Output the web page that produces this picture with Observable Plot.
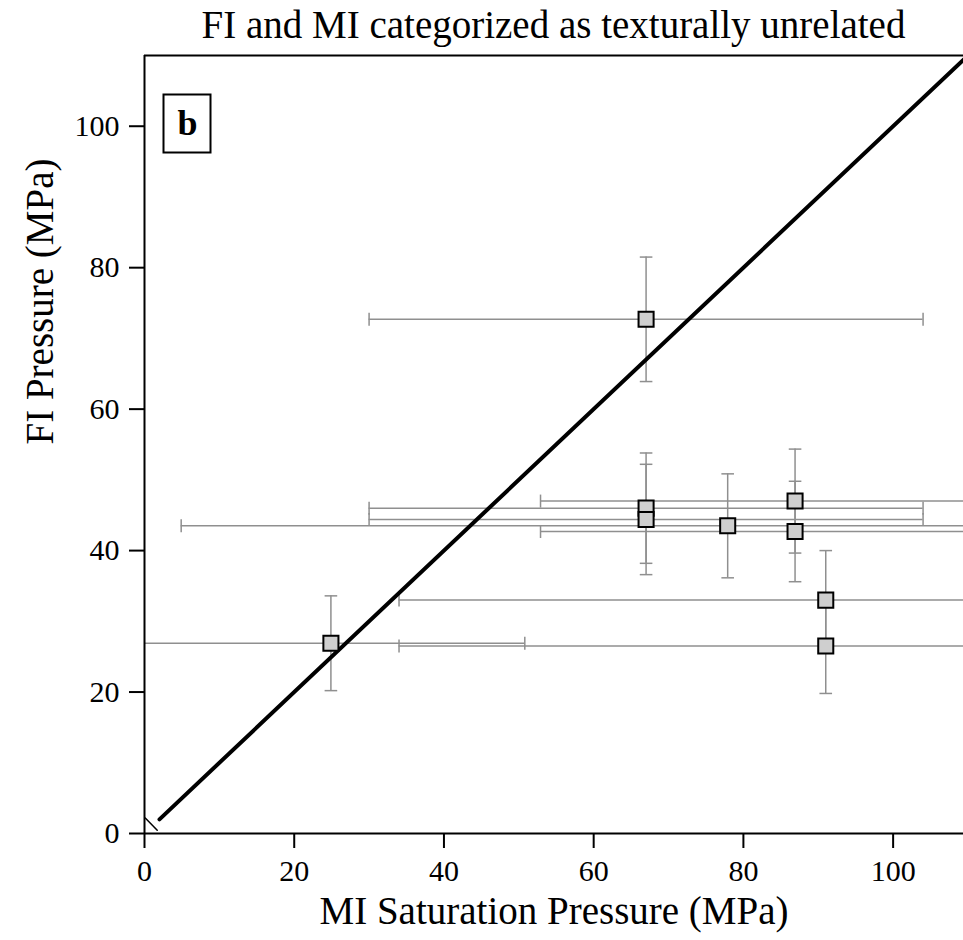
<!DOCTYPE html>
<html>
<head>
<meta charset="utf-8">
<script src="https://cdn.jsdelivr.net/npm/d3@7"></script>
<script src="https://cdn.jsdelivr.net/npm/@observablehq/plot@0.6"></script>
<style>
  html, body { margin: 0; padding: 0; background: #fff; }
  #title { width: 963px; height: 40px; box-sizing: border-box; padding-left: 144px;
           text-align: center; font-family: "Liberation Serif", "DejaVu Serif", serif;
           font-size: 39px; line-height: 50px; color: #000; white-space: nowrap; overflow: visible; }
</style>
</head>
<body>
<div id="title">FI and MI categorized as texturally unrelated</div>
<div id="chart"></div>
<script>
// ---- data ----
const miPressure   = [67, 67, 67, 77.9, 86.9, 86.9, 91, 91, 24.9];   // x (MPa)
const fiPressure   = [72.7, 46.0, 44.4, 43.5, 47.0, 42.7, 33.0, 26.5, 26.9]; // y (MPa)
const miError      = [37, 37, 37, 73, 34, 34, 57, 57, 25.9];        // ± x
const fiError      = [8.8, 7.8, 7.8, 7.35, 7.35, 7.1, 7.0, 6.7, 6.7]; // ± y
const xTicks = [0, 20, 40, 60, 80, 100];
const yTicks = [0, 20, 40, 60, 80, 100];
const oneToOne  = [{x: 2, y: 2}, {x: 110, y: 110}];
const breakMark = [{x: 0.1, y: 2.2}, {x: 1.7, y: 0.45}];

const points = miPressure.map((x, i) => ({x, y: fiPressure[i], xe: miError[i], ye: fiError[i]}));
const xCaps = points.flatMap(d => [{x: d.x - d.xe, y: d.y}, {x: d.x + d.xe, y: d.y}]);
const yCaps = points.flatMap(d => [{x: d.x, y: d.y - d.ye}, {x: d.x, y: d.y + d.ye}]);

const capV = {draw(ctx, size) { const r = Math.sqrt(size / Math.PI); ctx.moveTo(0, -r); ctx.lineTo(0, r); }};
const capH = {draw(ctx, size) { const r = Math.sqrt(size / Math.PI); ctx.moveTo(-r, 0); ctx.lineTo(r, 0); }};

const errColor = "#8f8f8f";

const labelBox = (index, scales, values, dims) => {
  const g = d3.create("svg:rect")
    .attr("x", dims.marginLeft + 19.5).attr("y", dims.marginTop + 39.5)
    .attr("width", 47).attr("height", 58)
    .attr("fill", "white").attr("stroke", "black").attr("stroke-width", 2);
  return g.node();
};

const chart = Plot.plot({
  width: 963,
  height: 900,
  marginTop: 15,
  marginLeft: 144,
  marginRight: 0,
  marginBottom: 107,
  style: {fontFamily: "Liberation Serif, DejaVu Serif, serif", fontSize: "30px", color: "#000", background: "#fff", overflow: "visible"},
  x: {domain: [0, 109.4]},
  y: {domain: [0, 110]},
  marks: [
    // error bars
    Plot.ruleY(points, {y: "y", x1: d => d.x - d.xe, x2: d => d.x + d.xe, stroke: errColor, strokeWidth: 1.5, clip: true}),
    Plot.ruleX(points, {x: "x", y1: d => d.y - d.ye, y2: d => d.y + d.ye, stroke: errColor, strokeWidth: 1.5, clip: true}),
    Plot.dot(xCaps, {x: "x", y: "y", symbol: capV, r: 6.5, stroke: errColor, strokeWidth: 1.5, clip: true}),
    Plot.dot(yCaps, {x: "x", y: "y", symbol: capH, r: 6.3, stroke: errColor, strokeWidth: 1.5, clip: true}),
    // 1:1 line
    Plot.line(oneToOne, {x: "x", y: "y", stroke: "black", strokeWidth: 4, clip: true}),
    Plot.line(breakMark, {x: "x", y: "y", stroke: "black", strokeWidth: 1.5}),
    // frame lines
    Plot.ruleY([0], {stroke: "black", strokeWidth: 2}),
    Plot.ruleY([110], {stroke: "black", strokeWidth: 2}),
    Plot.ruleX([0], {stroke: "black", strokeWidth: 2}),
    // axes
    Plot.axisX({ticks: xTicks, tickSize: 15, tickPadding: 11, strokeWidth: 2, label: null, fontSize: 30, tickFormat: d => String(d)}),
    Plot.axisY({ticks: yTicks, tickSize: 15, tickPadding: 10, strokeWidth: 2, label: null, fontSize: 30, tickFormat: d => String(d)}),
    // points
    Plot.dot(points, {x: "x", y: "y", symbol: "square", r: 8.5, fill: "#cfcfcf", stroke: "black", strokeWidth: 2}),
    // panel label
    labelBox,
    Plot.text(["b"], {frameAnchor: "top-left", dx: 43, dy: 68, text: d => d, textAnchor: "middle", lineAnchor: "middle", fontWeight: "bold", fontSize: 36}),
    // axis titles
    Plot.text(["MI Saturation Pressure (MPa)"], {frameAnchor: "bottom", dy: 90, text: d => d, fontSize: 39}),
    Plot.text(["FI Pressure (MPa)"], {frameAnchor: "left", dx: -104, rotate: -90, text: d => d, fontSize: 39})
  ]
});
document.getElementById("chart").appendChild(chart);
</script>
</body>
</html>
